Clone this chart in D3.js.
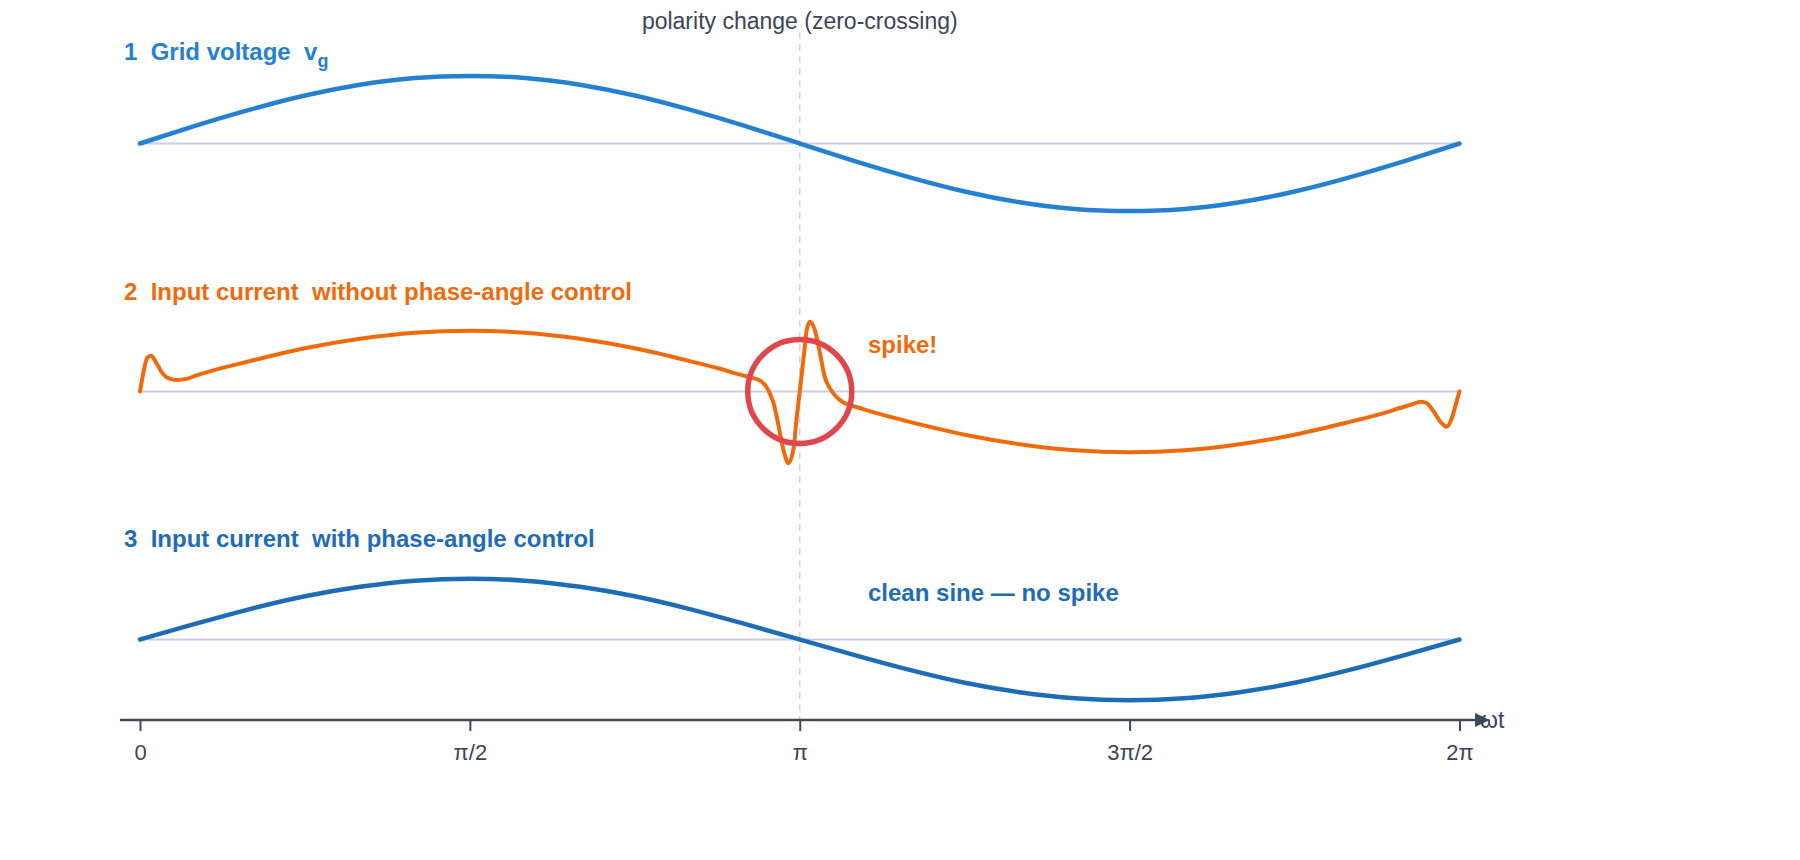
<!DOCTYPE html>
<html>
<head>
<meta charset="utf-8">
<script src="https://cdn.jsdelivr.net/npm/d3@7"></script>
<style>
  html, body { margin: 0; padding: 0; background: #ffffff; }
  svg { display: block; }
  text { font-family: "Liberation Sans", Arial, Helvetica, sans-serif; white-space: pre; }
</style>
</head>
<body>
<svg id="chart" width="1800" height="860"></svg>
<script>
// ---------------- data ----------------
const phaseDeg = [0,15,30,45,60,75,90,105,120,135,150,165,180,195,210,225,240,255,270,285,300,315,330,345,360];
const gridVoltage = [0,0.26,0.5,0.71,0.87,0.97,1,0.97,0.87,0.71,0.5,0.26,0,-0.26,-0.5,-0.71,-0.87,-0.97,-1,-0.97,-0.87,-0.71,-0.5,-0.26,0];
const currentWithControl = [0,0.23,0.45,0.64,0.78,0.87,0.9,0.87,0.78,0.64,0.45,0.23,0,-0.23,-0.45,-0.64,-0.78,-0.87,-0.9,-0.87,-0.78,-0.64,-0.45,-0.23,0];

const spikePhaseDeg = [0,1,2,3,4.5,6,8,10,13,15,30,45,60,75,90,105,120,135,150,158,163,166.5,169.5,171,172,173,174,175.5,176.9,178.3,179.1,180,181.2,181.9,182.8,184.1,185.5,186.8,188.2,190,191.8,193.8,197,200,205,210,225,240,255,270,285,300,315,330,340,344,347,349.5,351,353,355,356.5,358,359.2,360];
const currentNoControl = [0,0.3,0.5,0.53,0.42,0.28,0.19,0.17,0.19,0.23,0.45,0.64,0.78,0.87,0.9,0.87,0.78,0.64,0.45,0.34,0.26,0.21,0.15,0.06,-0.05,-0.2,-0.45,-0.85,-1.06,-0.85,-0.42,0,0.57,0.91,1.03,0.91,0.57,0.22,0.05,-0.08,-0.16,-0.2,-0.255,-0.305,-0.38,-0.45,-0.64,-0.78,-0.87,-0.9,-0.87,-0.78,-0.64,-0.45,-0.31,-0.24,-0.19,-0.15,-0.17,-0.3,-0.46,-0.52,-0.38,-0.15,0];

const tickDeg = [0,90,180,270,360];
const tickLabels = ["0","π/2","π","3π/2","2π"];
const zeroCrossingDeg = 180;

// ---------------- layout ----------------
const svg = d3.select("#chart");
const X0 = 140, X1 = 1459.5;
const x = d3.scaleLinear().domain([0,360]).range([X0, X1]);
const panelBase = d3.scaleLinear().domain([0,2]).range([143.5, 639.5]);
const AMP = 67.6;
const yFor = i => d3.scaleLinear().domain([-1,1]).range([panelBase(i)+AMP, panelBase(i)-AMP]);

const BLUE1 = "#2680d1", ORANGE = "#f06a0c", BLUE3 = "#1f6cb6";
const DARK = "#3a4557", AXIS = "#3d4a5c";

// dashed zero-crossing marker
svg.append("line")
  .attr("x1", x(zeroCrossingDeg)).attr("x2", x(zeroCrossingDeg))
  .attr("y1", 32).attr("y2", 720)
  .attr("stroke", "#d4d4d8").attr("stroke-width", 1.5)
  .attr("stroke-dasharray", "7,5");

svg.append("text")
  .attr("x", x(zeroCrossingDeg)).attr("y", 28.5)
  .attr("text-anchor", "middle")
  .attr("font-size", 23).attr("fill", DARK)
  .text("polarity change (zero-crossing)");

// baselines
[0,1,2].forEach(i => {
  svg.append("line")
    .attr("x1", x(0)).attr("x2", x(360))
    .attr("y1", yFor(i)(0)).attr("y2", yFor(i)(0))
    .attr("stroke", "#c9cde2").attr("stroke-width", 2);
});

// waves
const drawWave = (i, xs, ys, color, width, curve) => {
  const y = yFor(i);
  const line = d3.line().x(d => x(d[0])).y(d => y(d[1])).curve(curve);
  svg.append("path")
    .datum(xs.map((v, k) => [v, ys[k]]))
    .attr("d", line)
    .attr("fill", "none")
    .attr("stroke", color).attr("stroke-width", width)
    .attr("stroke-linecap", "round").attr("stroke-linejoin", "round");
};
drawWave(0, phaseDeg, gridVoltage, BLUE1, 4.5, d3.curveNatural);
drawWave(1, spikePhaseDeg, currentNoControl, ORANGE, 4, d3.curveMonotoneX);
drawWave(2, phaseDeg, currentWithControl, BLUE3, 4.5, d3.curveNatural);

// spike circle
svg.append("circle")
  .attr("cx", x(zeroCrossingDeg)).attr("cy", yFor(1)(0))
  .attr("r", 52)
  .attr("fill", "none").attr("stroke", "#e0474c").attr("stroke-width", 5.5);

// titles
const t1 = svg.append("text").attr("x", 124).attr("y", 60)
  .attr("font-size", 24).attr("font-weight", "bold").attr("fill", BLUE1);
t1.append("tspan").text("1  Grid voltage  v");
t1.append("tspan").attr("font-size", 18).attr("dy", 7).text("g");

svg.append("text").attr("x", 124).attr("y", 300)
  .attr("font-size", 24).attr("font-weight", "bold").attr("fill", ORANGE)
  .text("2  Input current  without phase-angle control");

svg.append("text").attr("x", 124).attr("y", 547)
  .attr("font-size", 24).attr("font-weight", "bold").attr("fill", BLUE3)
  .text("3  Input current  with phase-angle control");

svg.append("text").attr("x", 868).attr("y", 353)
  .attr("font-size", 24).attr("font-weight", "bold").attr("fill", ORANGE)
  .text("spike!");

svg.append("text").attr("x", 868).attr("y", 601)
  .attr("font-size", 24).attr("font-weight", "bold").attr("fill", BLUE3)
  .text("clean sine — no spike");

// time axis
const AXIS_Y = 720;
const axis = d3.axisBottom(x)
  .tickValues(tickDeg)
  .tickFormat((d, k) => tickLabels[k])
  .tickSize(11).tickPadding(13);
const gAxis = svg.append("g").attr("transform", `translate(0,${AXIS_Y})`).call(axis);
gAxis.select(".domain").remove();
gAxis.selectAll(".tick line").attr("stroke", AXIS).attr("stroke-width", 2);
gAxis.selectAll(".tick text")
  .attr("font-size", 22).attr("fill", DARK)
  .attr("font-family", "'Liberation Sans', Arial, sans-serif");

svg.append("line")
  .attr("x1", 120).attr("x2", 1478)
  .attr("y1", AXIS_Y).attr("y2", AXIS_Y)
  .attr("stroke", AXIS).attr("stroke-width", 2.5);
svg.append("path")
  .attr("d", `M1475,${AXIS_Y-7} L1490,${AXIS_Y} L1475,${AXIS_Y+7} Z`)
  .attr("fill", AXIS);
svg.append("text").attr("x", 1480).attr("y", AXIS_Y + 8)
  .attr("font-size", 23).attr("fill", DARK)
  .text("ωt");
</script>
</body>
</html>
